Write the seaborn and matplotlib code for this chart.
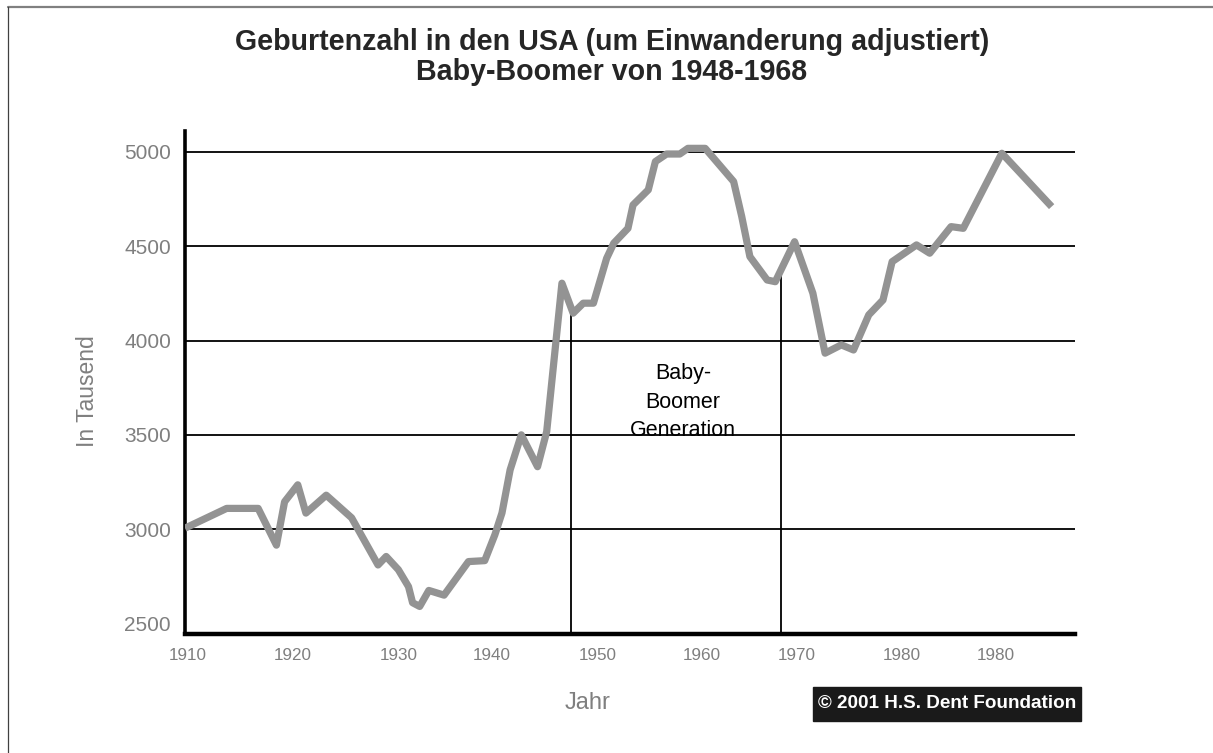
import numpy as np
import pandas as pd
import matplotlib
matplotlib.use("Agg")
import matplotlib.pyplot as plt
from matplotlib.patches import Rectangle
from matplotlib.lines import Line2D
import seaborn as sns

# ======================================
# DATA
# ======================================
years = [1910.0, 1914.1, 1917.2, 1919.0, 1919.8, 1921.1, 1921.9, 1923.9, 1926.4,
         1929.0, 1929.8, 1931.0, 1932.0, 1932.4, 1933.1, 1934.0, 1935.5, 1937.9,
         1939.5, 1940.5, 1941.2, 1942.0, 1943.1, 1944.7, 1945.6, 1947.1, 1948.2,
         1949.2, 1950.2, 1951.5, 1952.2, 1953.6, 1954.1, 1955.6, 1956.3, 1957.4,
         1958.7, 1959.5, 1961.2, 1964.0, 1964.8, 1965.6, 1967.3, 1968.1, 1970.0,
         1971.8, 1973.0, 1974.6, 1975.8, 1977.3, 1978.7, 1979.6, 1982.0, 1983.3,
         1985.4, 1986.6, 1990.4, 1995.3]
births = [3005, 3110, 3110, 2915, 3145, 3235, 3085, 3180, 3060,
          2810, 2855, 2785, 2695, 2610, 2590, 2675, 2650, 2828,
          2833, 2970, 3086, 3314, 3500, 3331, 3517, 4304, 4145,
          4198, 4198, 4436, 4516, 4595, 4719, 4799, 4949, 4989,
          4989, 5019, 5019, 4843, 4657, 4445, 4321, 4312, 4524,
          4251, 3933, 3977, 3950, 4136, 4215, 4418, 4507, 4463,
          4604, 4595, 4993, 4710]

boom_years = [1948.0, 1968.7]
boom_tops = [4165, 4392]

y_ticks = [2500, 3000, 3500, 4000, 4500, 5000]
grid_levels = [3000, 3500, 4000, 4500, 5000]

# the original chart labels its last tick "1980" (sic)
x_tick_pos = [1910.3, 1920.6, 1931.0, 1940.2, 1950.6, 1960.9, 1970.2, 1980.6, 1989.8]
x_tick_labels = ["1910", "1920", "1930", "1940", "1950", "1960", "1970", "1980", "1980"]

title = "Geburtenzahl in den USA (um Einwanderung adjustiert)\nBaby-Boomer von 1948-1968"

df = pd.DataFrame({"Jahr": years, "Geburten": births})

# ======================================
# STYLE
# ======================================
sns.set_style("white")
plt.rcParams["font.family"] = ["Liberation Sans", "DejaVu Sans"]

GRAY_TXT = "#7f7f7f"
LINE_GRAY = "#939393"

fig = plt.figure(figsize=(12.13, 7.53), dpi=100)
ax = fig.add_axes([185 / 1213, 1 - 634 / 753, 890 / 1213, 503 / 753])

# ======================================
# PLOT
# ======================================
for lvl in grid_levels:
    ax.axhline(lvl, color="black", lw=1.3, zorder=1)

ax.vlines(boom_years, ymin=2400, ymax=boom_tops, color="black", lw=1.3, zorder=1)

sns.lineplot(data=df, x="Jahr", y="Geburten", sort=False, estimator=None,
             color=LINE_GRAY, lw=5.2, ax=ax, zorder=3,
             solid_joinstyle="round", solid_capstyle="butt")

ax.text(1959.0, 3674, "Baby-\nBoomer\nGeneration", ha="center", va="center",
        multialignment="center", fontsize=15.5, color="black", linespacing=1.45)

ax.set_xlim(1910, 1997.6)
ax.set_ylim(2444, 5111)
ax.set_yticks(y_ticks)
ax.set_yticklabels([str(v) for v in y_ticks], fontsize=15, color=GRAY_TXT)
ax.set_xticks(x_tick_pos)
ax.set_xticklabels(x_tick_labels, fontsize=12.3, color=GRAY_TXT)
ax.tick_params(axis="both", length=0)
ax.tick_params(axis="y", pad=10)
ax.tick_params(axis="x", pad=10)
ax.set_xlabel("")
ax.set_ylabel("")

for side in ["top", "right"]:
    ax.spines[side].set_visible(False)
ax.spines["left"].set_linewidth(2.6)
ax.spines["bottom"].set_linewidth(3.2)
ax.spines["left"].set_color("black")
ax.spines["bottom"].set_color("black")

# ======================================
# TEXTS AROUND THE AXES
# ======================================
fig.text(612 / 1213, 1 - 57 / 753, title, ha="center", va="center", fontsize=20.6,
         fontweight="bold", linespacing=1.12)
fig.text(88 / 1213, 1 - 391 / 753, "In Tausend", rotation=90, ha="center",
         va="center", fontsize=16.5, color=GRAY_TXT)
fig.text(588 / 1213, 1 - 703 / 753, "Jahr", ha="center", va="center",
         fontsize=17, color=GRAY_TXT)

fig.patches.append(Rectangle((813 / 1213, 1 - 721 / 753), 268 / 1213, 34 / 753,
                             transform=fig.transFigure, color="#1a1a1a", zorder=2))
fig.text(947 / 1213, 1 - 704 / 753, "\u00a9 2001 H.S. Dent Foundation", ha="center",
         va="center", fontsize=13.6, fontweight="bold", color="white", zorder=3)

# picture frame (top and left edges)
fig.add_artist(Line2D([8 / 1213, 1], [1 - 7 / 753, 1 - 7 / 753], color="#808080",
                      lw=1.6, transform=fig.transFigure))
fig.add_artist(Line2D([8 / 1213, 8 / 1213], [0, 1 - 7 / 753], color="#404040",
                      lw=0.9, transform=fig.transFigure))

fig.savefig("out.png", dpi=100)
plt.close()
